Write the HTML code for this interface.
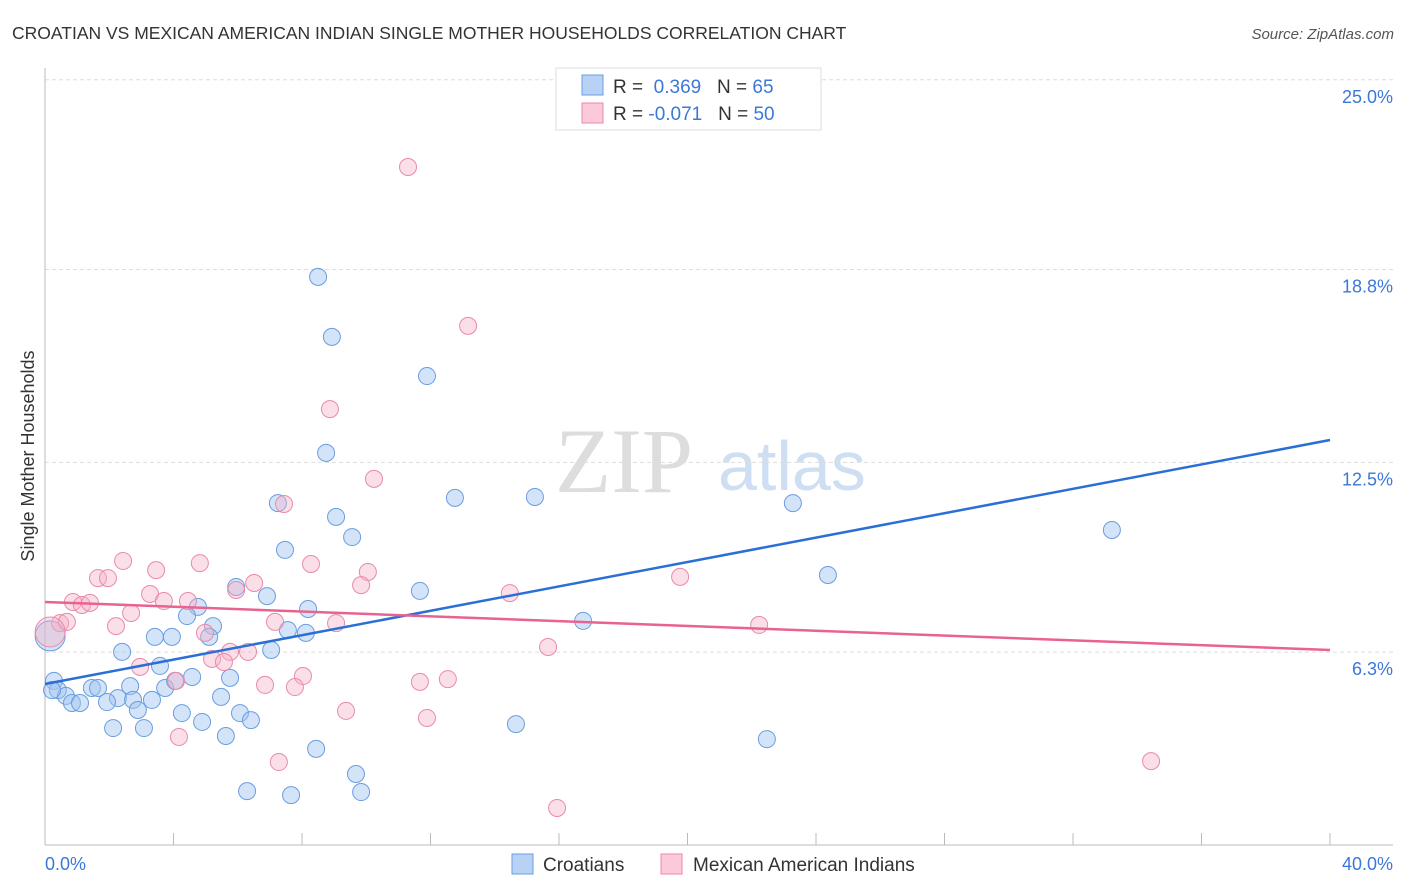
<!DOCTYPE html>
<html><head><meta charset="utf-8"><style>
body{margin:0;background:#fff;font-family:"Liberation Sans",sans-serif}
svg{display:block}
</style></head><body>
<svg id="chart" width="1406" height="892">
<text x="12" y="39" font-size="17.5" fill="#333">CROATIAN VS MEXICAN AMERICAN INDIAN SINGLE MOTHER HOUSEHOLDS CORRELATION CHART</text>
<text x="1394" y="39" font-size="15" fill="#555" font-style="italic" text-anchor="end">Source: ZipAtlas.com</text>
<g>
<text x="555" y="492" font-size="92" font-family="Liberation Serif,serif" fill="#ddd">ZIP</text>
<text x="718" y="490" font-size="70" fill="#cfdff3">atlas</text>
</g>
<g id="grid"></g>
<line x1="45" y1="68" x2="45" y2="845" stroke="#bbb"/>
<line x1="45" y1="845" x2="1393" y2="845" stroke="#bbb"/>
<text transform="translate(34,456) rotate(-90)" font-size="18" fill="#333" text-anchor="middle">Single Mother Households</text>
<text x="45" y="870" font-size="18" fill="#3b78d8">0.0%</text>
<text x="1393" y="870" font-size="18" fill="#3b78d8" text-anchor="end">40.0%</text>
<g id="pts"></g>
<g id="lines"></g>
<g>
<rect x="556" y="68" width="265" height="62" fill="#fff" stroke="#ddd"/>
<rect x="582" y="75" width="21" height="20" fill="#b7d2f5" stroke="#6a9de0"/>
<rect x="582" y="103" width="21" height="20" fill="#fcc9d8" stroke="#e98aab"/>
<text x="613" y="93" font-size="19" fill="#333">R = <tspan fill="#3b78d8">&#160;0.369</tspan>&#160;&#160;&#160;N = <tspan fill="#3b78d8">65</tspan></text>
<text x="613" y="120" font-size="19" fill="#333">R = <tspan fill="#3b78d8">-0.071</tspan>&#160;&#160;&#160;N = <tspan fill="#3b78d8">50</tspan></text>
</g>
<g>
<rect x="512" y="854" width="21" height="20" fill="#b7d2f5" stroke="#6a9de0"/>
<text x="543" y="871" font-size="19" fill="#333">Croatians</text>
<rect x="661" y="854" width="21" height="20" fill="#fcc9d8" stroke="#e98aab"/>
<text x="693" y="871" font-size="19" fill="#333">Mexican American Indians</text>
</g>
</svg>
<script>
const yTicks=[25.0,18.8,12.5,6.3];
const yTickLabels=["25.0%","18.8%","12.5%","6.3%"];
const xTicks=[0,4,8,12,16,20,24,28,32,36,40];
const croX=[8.50,8.93,11.89,8.75,7.25,12.76,15.25,23.28,33.21,9.06,9.56,7.47,24.37,11.67,5.95,6.91,4.76,8.19,4.42,5.23,16.75,7.56,8.12,3.42,3.95,5.11,2.40,7.04,3.58,0.28,0.40,0.65,0.84,1.09,1.46,1.65,2.27,1.93,2.65,2.74,2.89,3.33,3.74,4.05,4.58,5.76,5.48,4.26,6.07,4.89,6.41,2.12,3.08,5.63,8.44,14.66,22.47,9.68,6.29,7.66,9.84,0.22,0.16];
const croY=[18.56,16.60,15.32,12.81,11.17,11.34,11.37,11.17,10.29,10.72,10.06,9.64,8.82,8.30,8.43,8.13,7.78,7.71,7.48,7.15,7.32,7.02,6.93,6.80,6.80,6.80,6.31,6.37,5.85,5.36,5.06,4.87,4.64,4.64,5.13,5.13,4.80,4.67,5.19,4.74,4.41,4.74,5.13,5.36,5.49,5.46,4.84,4.31,4.31,4.02,4.08,3.82,3.82,3.56,3.14,3.95,3.46,2.32,1.76,1.63,1.73,5.06,6.83];
const croBig=[62];
const mexX=[11.30,13.17,8.87,10.24,7.44,2.43,3.46,4.82,8.28,10.05,1.65,1.96,6.51,9.84,5.95,3.27,19.77,14.47,0.87,1.15,1.40,3.70,4.45,2.68,2.21,0.47,0.68,7.16,9.06,22.23,4.98,5.76,6.32,5.20,5.57,15.66,2.96,4.08,8.03,6.85,7.78,11.67,12.54,9.37,11.89,4.17,7.28,34.43,15.94,0.16];
const mexY=[22.15,16.96,14.24,11.96,11.14,9.28,8.98,9.21,9.18,8.92,8.72,8.72,8.56,8.49,8.33,8.20,8.76,8.23,7.94,7.84,7.91,7.97,7.97,7.58,7.15,7.25,7.29,7.29,7.25,7.19,6.93,6.31,6.31,6.08,5.98,6.47,5.82,5.36,5.52,5.23,5.16,5.33,5.42,4.38,4.15,3.53,2.71,2.74,1.21,6.96];
const mexBig=[49];
const croTrend=[5.26,13.23];
const mexTrend=[7.94,6.37];
const trendX=[0,40];
const X=v=>45+v*32.125, Y=v=>845-v*30.61;
const NS='http://www.w3.org/2000/svg';
function mk(t,a,p){const e=document.createElementNS(NS,t);for(const k in a)e.setAttribute(k,a[k]);p.appendChild(e);return e;}
const grid=document.getElementById('grid');
yTicks.forEach((v,i)=>{
 const l=mk('line',{x1:45,x2:1393,y1:Y(v),y2:Y(v),stroke:'#ddd','stroke-dasharray':'4,3'},grid);
 
 
 const t=mk('text',{x:1393,y:Y(v)+23,'font-size':18,fill:'#3b78d8','text-anchor':'end'},grid);
 t.textContent=yTickLabels[i];
 
 
});
xTicks.forEach(v=>{
 const l=mk('line',{x1:X(v),x2:X(v),y1:833,y2:845,stroke:'#bbb'},grid);
 
 
});
const pts=document.getElementById('pts');
croX.forEach((x,i)=>{
 const c=mk('circle',{cx:X(x),cy:Y(croY[i]),r:croBig.includes(i)?15:8.5,fill:'rgba(160,196,240,0.45)',stroke:'#6a9de0','stroke-width':1},pts);
 
 
});
mexX.forEach((x,i)=>{
 const c=mk('circle',{cx:X(x),cy:Y(mexY[i]),r:mexBig.includes(i)?15:8.5,fill:'rgba(246,175,198,0.4)',stroke:'#e98aab','stroke-width':1},pts);
 
 
});
const lines=document.getElementById('lines');
const l1=mk('line',{x1:X(trendX[0]),x2:X(trendX[1]),y1:Y(croTrend[0]),y2:Y(croTrend[1]),stroke:'#2a6fd6','stroke-width':2.5},lines);


const l2=mk('line',{x1:X(trendX[0]),x2:X(trendX[1]),y1:Y(mexTrend[0]),y2:Y(mexTrend[1]),stroke:'#e8638f','stroke-width':2.5},lines);


</script>
</body></html>
